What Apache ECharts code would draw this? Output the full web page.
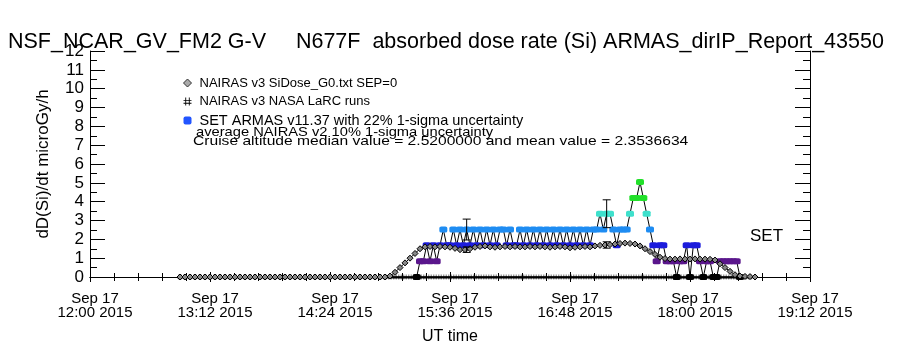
<!DOCTYPE html>
<html>
<head>
<meta charset="utf-8">
<script src="https://cdn.jsdelivr.net/npm/echarts@6/dist/echarts.min.js"></script>
<style>
  html, body { margin: 0; padding: 0; background: #fff; }
  #main { width: 900px; height: 350px; }
</style>
</head>
<body>
<div id="main"></div>
<script>
// x axis: minutes since 00:00 UT on Sep 17 2015
var xTicks = ['12:00', '13:12', '14:24', '15:36', '16:48', '18:00', '19:12'];
var yTicks = [0, 1, 2, 3, 4, 5, 6, 7, 8, 9, 10, 11, 12];

// NAIRAS v3 model, one value every 3 min from 12:54
var nairasStart = '12:54';
var nairasStep = 3;
var nairasValues = [
    0, 0, 0, 0, 0, 0, 0, 0, 0, 0, 0, 0, 0, 0, 0, 0, 0, 0, 0, 0, 0,
    0, 0, 0, 0, 0, 0, 0, 0, 0, 0, 0, 0, 0, 0, 0, 0, 0, 0, 0, 0, 0,
    0.05, 0.25, 0.5, 0.75, 1.0, 1.25, 1.5,
    1.6, 1.62, 1.6, 1.62, 1.6, 1.58, 1.52, 1.45, 1.45, 1.5, 1.58, 1.62, 1.65,
    1.6, 1.58, 1.6, 1.62, 1.6, 1.62, 1.6, 1.6, 1.62, 1.6, 1.62, 1.6, 1.58,
    1.6, 1.62, 1.6, 1.55, 1.58, 1.6, 1.62, 1.6, 1.65, 1.68, 1.7, 1.72, 1.75,
    1.78, 1.8, 1.78, 1.75, 1.65, 1.5, 1.35, 1.2, 1.05, 0.98, 0.95, 0.95, 0.96,
    0.95, 0.95, 0.96, 0.95, 0.95, 0.94, 0.9, 0.7, 0.5, 0.3, 0.12, 0.05, 0.03,
    0.02, 0
];

// NAIRAS v3 NASA LaRC runs, one value every 3 min from 12:54 (all at zero)
var larcStart = '12:54';
var larcStep = 3;
var larcValues = [
    0, 0, 0, 0, 0, 0, 0, 0, 0, 0, 0, 0, 0, 0, 0, 0, 0, 0, 0, 0,
    0, 0, 0, 0, 0, 0, 0, 0, 0, 0, 0, 0, 0, 0, 0, 0, 0, 0, 0, 0,
    0, 0, 0, 0, 0, 0, 0, 0, 0, 0, 0, 0, 0, 0, 0, 0, 0, 0, 0, 0,
    0, 0, 0, 0, 0, 0, 0, 0, 0, 0, 0, 0, 0, 0, 0, 0, 0, 0, 0, 0,
    0, 0, 0, 0, 0, 0, 0, 0, 0, 0, 0, 0, 0, 0, 0, 0, 0, 0, 0, 0,
    0, 0, 0, 0, 0, 0, 0, 0, 0, 0, 0, 0, 0, 0, 0
];

// SET ARMAS measurements, one value every 2 min from 15:16
var armasStart = '15:16';
var armasStep = 2;
var armasValues = [
    0, 0.84, 0.84, 1.68, 0.84, 1.68, 0.84, 1.68, 2.52, 1.68,
    1.68, 2.52, 1.68, 2.52, 1.68, 2.52, 1.68, 2.52, 1.68, 2.52,
    1.68, 2.52, 1.68, 2.52, 1.68, 2.52, 2.52, 1.68, 2.52, 1.68,
    1.68, 2.52, 1.68, 2.52, 1.68, 2.52, 1.68, 2.52, 1.68, 2.52,
    1.68, 2.52, 1.68, 2.52, 1.68, 2.52, 1.68, 2.52, 1.68, 2.52,
    1.68, 2.52, 1.68, 2.52, 2.52, 3.36, 2.52, 3.36, 3.36, 2.52,
    1.68, 2.52, 2.52, 2.52, 3.36, 4.2, 4.2, 5.04, 4.2, 3.36,
    2.52, 1.68, 0.84, 1.68, 1.68, 0.84, 0.84, 0.84, 0, 0.84,
    0.84, 1.68, 0, 1.68, 1.68, 0.84, 0, 0.84, 0.84, 0,
    0, 0.84, 0.84, 0.84, 0.84, 0.84, 0.84, 0
];

// error bars: ARMAS 22% and NAIRAS 10% 1-sigma
var armasErrTimes = ['15:46', '17:10'];
var armasErrValues = [2.52, 3.36];
var nairasErrTimes = ['15:46', '17:10'];
var nairasErrValues = [1.45, 1.7];

var FONT = 'Liberation Sans';

function toMin(s) {
    var p = s.split(':');
    return +p[0] * 60 + +p[1];
}
function pad(n) { return (n < 10 ? '0' : '') + n; }

function series(start, step, values) {
    var t0 = toMin(start), out = [];
    for (var i = 0; i < values.length; i++) out.push([t0 + i * step, values[i]]);
    return out;
}

function armasColor(v) {
    if (v < 0.4) return '#000000';
    if (v < 1.2) return '#5a168c';
    if (v < 2.0) return '#1c1cdc';
    if (v < 2.9) return '#1e8cf2';
    if (v < 3.8) return '#3ee0cc';
    return '#22e02a';
}

var armasData = series(armasStart, armasStep, armasValues);
var nairasData = series(nairasStart, nairasStep, nairasValues);
var larcData = series(larcStart, larcStep, larcValues);
var errData = [];
for (var i = 0; i < armasErrTimes.length; i++) {
    var v = armasErrValues[i];
    errData.push([toMin(armasErrTimes[i]), v * 0.78, v * 1.22]);
}
for (var j = 0; j < nairasErrTimes.length; j++) {
    var n = nairasErrValues[j];
    errData.push([toMin(nairasErrTimes[j]), n * 0.9, n * 1.1]);
}

var xMin = toMin(xTicks[0]), xMax = toMin(xTicks[xTicks.length - 1]);

var myChart = echarts.init(document.getElementById('main'));

var baseX = {
    type: 'value',
    min: xMin,
    max: xMax,
    interval: 72,
    axisLine: { lineStyle: { color: '#000', width: 1 } },
    axisTick: { inside: true, length: 5, lineStyle: { color: '#000' } },
    minorTick: { show: true, splitNumber: 5, length: 4, lineStyle: { color: '#000' } },
    splitLine: { show: false }
};
var baseY = {
    type: 'value',
    min: yTicks[0],
    max: yTicks[yTicks.length - 1],
    interval: 1,
    axisLine: { show: true, lineStyle: { color: '#000', width: 1 } },
    axisTick: { show: true, inside: true, length: 15, lineStyle: { color: '#000' } },
    minorTick: { show: true, splitNumber: 2, length: 7, lineStyle: { color: '#000' } },
    splitLine: { show: false }
};

var option = {
    animation: false,
    backgroundColor: '#fff',
    title: {
        text: 'NSF_NCAR_GV_FM2 G-V     N677F  absorbed dose rate (Si) ARMAS_dirIP_Report_43550',
        left: 3,
        top: 26,
        textStyle: { fontFamily: FONT, fontSize: 21.5, fontWeight: 'normal', color: '#000' }
    },
    grid: { left: 90, right: 90, top: 51, bottom: 71 },
    legend: {
        orient: 'vertical',
        left: 178,
        top: 71,
        itemWidth: 8,
        itemHeight: 8,
        itemGap: 4.5,
        selectedMode: false,
        textStyle: { fontFamily: FONT, fontSize: 13, lineHeight: 14, color: '#000', padding: [0, 0, 0, 3] },
        data: [
            { name: 'NAIRAS v3 SiDose_G0.txt SEP=0', icon: 'diamond',
              itemStyle: { color: '#aaa', borderColor: '#333', borderWidth: 1 } },
            { name: 'NAIRAS v3 NASA LaRC runs',
              icon: 'path://M2,0h1v9h-1z M6,0h1v9h-1z M0,3h9v1h-9z M0,6h9v1h-9z',
              itemStyle: { color: '#000' } },
            { name: 'SET ARMAS v11.37 with 22% 1-sigma uncertainty', icon: 'roundRect',
              itemStyle: { color: '#2255ff' },
              textStyle: { fontSize: 14.5, lineHeight: 14 } }
        ]
    },
    graphic: [
        { type: 'text', left: 196, top: 126, scaleX: 1.13,
          style: { text: 'average NAIRAS v2 10% 1-sigma uncertainty', font: '13px ' + FONT, fill: '#000' } },
        { type: 'text', left: 193, top: 135, scaleX: 1.2,
          style: { text: 'Cruise altitude median value = 2.5200000 and mean value = 2.3536634', font: '13px ' + FONT, fill: '#000' } },
        { type: 'text', left: 750, top: 228,
          style: { text: 'SET', font: '17px ' + FONT, fill: '#000' } }
    ],
    xAxis: [
        Object.assign({}, baseX, {
            position: 'bottom',
            name: 'UT time',
            nameLocation: 'middle',
            nameGap: 52,
            nameTextStyle: { fontFamily: FONT, fontSize: 16, color: '#000' },
            axisLabel: {
                show: true, margin: 15, fontFamily: FONT, fontSize: 15, lineHeight: 14, color: '#000',
                padding: [0, 0, 0, 10],
                showMinLabel: true, showMaxLabel: true,
                formatter: function (v) {
                    return 'Sep 17\n' + pad(Math.floor(v / 60)) + ':' + pad(v % 60) + ' 2015';
                }
            }
        }),
        Object.assign({}, baseX, { position: 'top', axisLabel: { show: false } })
    ],
    yAxis: [
        Object.assign({}, baseY, {
            position: 'left',
            name: 'dD(Si)/dt microGy/h',
            nameLocation: 'middle',
            nameRotate: 90,
            nameGap: 38,
            nameTextStyle: { fontFamily: FONT, fontSize: 17, color: '#000' },
            axisLabel: { show: true, margin: 6, fontFamily: FONT, fontSize: 17, color: '#000' }
        }),
        Object.assign({}, baseY, { position: 'right', axisLabel: { show: false } })
    ],
    series: [
        {
            name: 'NAIRAS v3 NASA LaRC runs',
            type: 'line',
            data: larcData,
            symbol: 'path://M2,0h1v9h-1z M6,0h1v9h-1z M0,3h9v1h-9z M0,6h9v1h-9z',
            symbolSize: 5,
            showAllSymbol: true,
            lineStyle: { color: '#000', width: 1.5 },
            itemStyle: { color: '#000' },
            z: 1
        },
        {
            name: 'SET ARMAS v11.37 with 22% 1-sigma uncertainty',
            type: 'line',
            data: armasData,
            symbol: 'roundRect',
            symbolSize: [8, 6],
            showAllSymbol: true,
            lineStyle: { color: '#000', width: 1 },
            itemStyle: {
                color: function (p) { return armasColor(p.value[1]); }
            },
            z: 2
        },
        {
            name: 'NAIRAS v3 SiDose_G0.txt SEP=0',
            type: 'line',
            data: nairasData,
            symbol: 'diamond',
            symbolSize: 6,
            showAllSymbol: true,
            lineStyle: { color: '#000', width: 1 },
            itemStyle: { color: '#888', borderColor: '#000', borderWidth: 1 },
            z: 3
        },
        {
            name: 'errors',
            type: 'custom',
            z: 4,
            encode: { x: 0, y: [1, 2] },
            data: errData,
            renderItem: function (params, api) {
                var x = api.value(0);
                var a = api.coord([x, api.value(1)]);
                var b = api.coord([x, api.value(2)]);
                var w = 4;
                var st = { stroke: '#000', lineWidth: 1 };
                return {
                    type: 'group',
                    children: [
                        { type: 'line', shape: { x1: a[0], y1: a[1], x2: b[0], y2: b[1] }, style: st },
                        { type: 'line', shape: { x1: a[0] - w, y1: a[1], x2: a[0] + w, y2: a[1] }, style: st },
                        { type: 'line', shape: { x1: b[0] - w, y1: b[1], x2: b[0] + w, y2: b[1] }, style: st }
                    ]
                };
            }
        }
    ]
};
myChart.setOption(option);
</script>
</body>
</html>
